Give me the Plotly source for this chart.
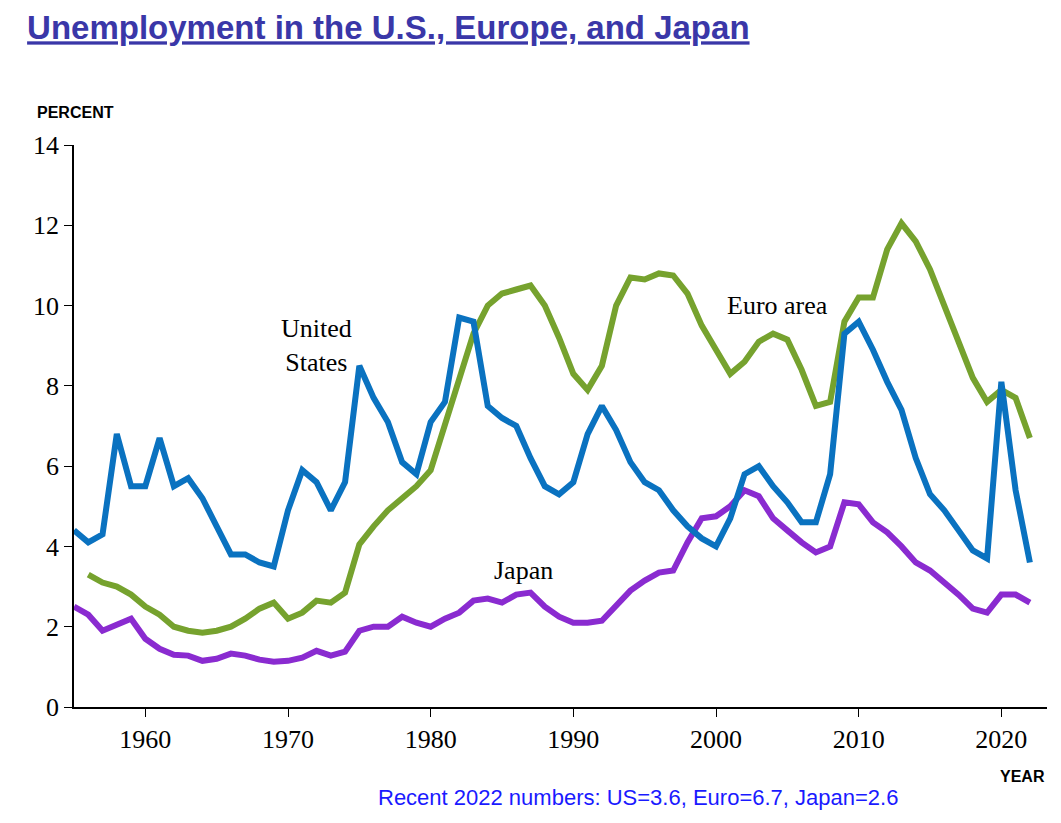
import plotly.graph_objects as go

years_us = list(range(1955, 2023))
us = [4.4, 4.1, 4.3, 6.8, 5.5, 5.5, 6.7, 5.5, 5.7, 5.2,
      4.5, 3.8, 3.8, 3.6, 3.5, 4.9, 5.9, 5.6, 4.9, 5.6,
      8.5, 7.7, 7.1, 6.1, 5.8, 7.1, 7.6, 9.7, 9.6, 7.5,
      7.2, 7.0, 6.2, 5.5, 5.3, 5.6, 6.8, 7.5, 6.9, 6.1,
      5.6, 5.4, 4.9, 4.5, 4.2, 4.0, 4.7, 5.8, 6.0, 5.5,
      5.1, 4.6, 4.6, 5.8, 9.3, 9.6, 8.9, 8.1, 7.4, 6.2,
      5.3, 4.9, 4.4, 3.9, 3.7, 8.1, 5.4, 3.6]

years_euro = list(range(1956, 2023))
euro = [3.3, 3.1, 3.0, 2.8, 2.5, 2.3, 2.0, 1.9, 1.85, 1.9,
        2.0, 2.2, 2.45, 2.6, 2.2, 2.35, 2.65, 2.6, 2.85, 4.05,
        4.5, 4.9, 5.2, 5.5, 5.9, 7.0, 8.2, 9.3, 10.0, 10.3,
        10.4, 10.5, 10.0, 9.2, 8.3, 7.9, 8.5, 10.0, 10.7, 10.65,
        10.8, 10.75, 10.3, 9.5, 8.9, 8.3, 8.6, 9.1, 9.3, 9.15,
        8.4, 7.5, 7.6, 9.6, 10.2, 10.2, 11.4, 12.05, 11.6, 10.9,
        10.0, 9.1, 8.2, 7.6, 7.9, 7.7, 6.7]

years_japan = list(range(1955, 2023))
japan = [2.5, 2.3, 1.9, 2.05, 2.2, 1.7, 1.45, 1.3, 1.28, 1.15,
         1.2, 1.33, 1.28, 1.18, 1.13, 1.15, 1.23, 1.4, 1.28, 1.38,
         1.9, 2.0, 2.0, 2.25, 2.1, 2.0, 2.2, 2.35, 2.65, 2.7,
         2.6, 2.8, 2.85, 2.5, 2.25, 2.1, 2.1, 2.15, 2.5, 2.9,
         3.15, 3.35, 3.4, 4.1, 4.7, 4.75, 5.0, 5.4, 5.25, 4.7,
         4.4, 4.1, 3.85, 4.0, 5.1, 5.05, 4.6, 4.35, 4.0, 3.6,
         3.4, 3.1, 2.8, 2.45, 2.35, 2.8, 2.8, 2.6]

serif = "Liberation Serif"
sans = "Liberation Sans"

fig = go.Figure()
fig.add_trace(go.Scatter(x=years_euro, y=euro, mode="lines",
                         line=dict(color="#76a22e", width=6)))
fig.add_trace(go.Scatter(x=years_japan, y=japan, mode="lines",
                         line=dict(color="#8a2bd0", width=6)))
fig.add_trace(go.Scatter(x=years_us, y=us, mode="lines",
                         line=dict(color="#0a72c0", width=6)))

# series labels
fig.add_annotation(x=1972, y=9.0, text="United<br>States", showarrow=False,
                   font=dict(family=serif, size=26, color="black"), align="center")
fig.add_annotation(x=2004.3, y=10.0, text="Euro area", showarrow=False,
                   font=dict(family=serif, size=26, color="black"))
fig.add_annotation(x=1986.5, y=3.4, text="Japan", showarrow=False,
                   font=dict(family=serif, size=26, color="black"))

fig.update_layout(
    width=1061, height=823,
    paper_bgcolor="white", plot_bgcolor="white",
    showlegend=False,
    margin=dict(l=66, r=22, t=137, b=124),
    title=dict(text="<b><u>Unemployment in the U.S., Europe, and Japan</u></b>",
               x=0.018, xanchor="left", y=0.99, yanchor="top",
               font=dict(family=sans, size=33, color="#3a37a8")),
    xaxis=dict(range=[1955, 2023.2], tickvals=list(range(1960, 2030, 10)),
               showgrid=False, zeroline=False, showline=True, linecolor="black",
               linewidth=1.5, ticks="outside", ticklen=8, tickcolor="black",
               tickfont=dict(family=serif, size=26, color="black")),
    yaxis=dict(range=[0, 14], dtick=2, showgrid=False, zeroline=False,
               showline=True, linecolor="black", linewidth=1.5,
               ticks="outside", ticklen=8, tickcolor="black",
               tickfont=dict(family=serif, size=26, color="black")),
)
fig.add_annotation(xref="paper", yref="paper", x=-0.04, y=1.04, xanchor="left",
                   yanchor="bottom", text="<b>PERCENT</b>", showarrow=False,
                   font=dict(family=sans, size=16, color="black"))
fig.add_annotation(xref="paper", yref="paper", x=1.0, y=-0.105, xanchor="right",
                   yanchor="top", text="<b>YEAR</b>", showarrow=False,
                   font=dict(family=sans, size=16, color="black"))
fig.add_annotation(xref="paper", yref="paper", x=0.58, y=-0.135, xanchor="center",
                   yanchor="top", text="Recent 2022 numbers: US=3.6, Euro=6.7, Japan=2.6",
                   showarrow=False, font=dict(family=sans, size=22, color="#1a1aff"))

fig.write_html("out.html")
